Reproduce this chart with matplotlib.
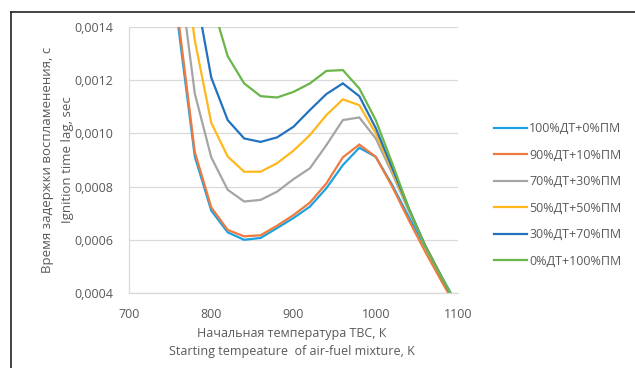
import matplotlib
matplotlib.use("Agg")
import matplotlib.pyplot as plt
from matplotlib.lines import Line2D

plt.rcParams['font.family'] = ['Open Sans', 'DejaVu Sans']

temps = [740, 760, 780, 800, 820, 840, 860, 880, 900, 920, 940, 960, 980, 1000, 1020, 1040, 1060, 1080, 1100]

s100 = [0.00200, 0.00140, 0.000913, 0.000710, 0.000628, 0.000600, 0.000607, 0.000644, 0.000682, 0.000725, 0.000794, 0.000881, 0.000946, 0.000912, 0.000806, 0.000687, 0.000575, 0.000462, 0.000350]
s90 = [0.00205, 0.00143, 0.000930, 0.000722, 0.000637, 0.000613, 0.000617, 0.000653, 0.000693, 0.000740, 0.000812, 0.000910, 0.000958, 0.000912, 0.000800, 0.000675, 0.000556, 0.000444, 0.000335]
s70 = [0.00220, 0.00163, 0.001150, 0.000910, 0.000788, 0.000744, 0.000750, 0.000781, 0.000828, 0.000869, 0.000956, 0.001050, 0.001060, 0.000981, 0.000850, 0.000710, 0.000580, 0.000460, 0.000345]
s50 = [0.00240, 0.00180, 0.001350, 0.001040, 0.000913, 0.000856, 0.000856, 0.000888, 0.000935, 0.000994, 0.001069, 0.001128, 0.001106, 0.001000, 0.000860, 0.000715, 0.000580, 0.000460, 0.000345]
s30 = [0.00260, 0.00200, 0.001550, 0.001210, 0.001050, 0.000981, 0.000968, 0.000985, 0.001025, 0.001088, 0.001148, 0.001188, 0.001140, 0.001020, 0.000870, 0.000720, 0.000578, 0.000460, 0.000345]
s0 = [0.00300, 0.00240, 0.001900, 0.001500, 0.001290, 0.001188, 0.001140, 0.001135, 0.001156, 0.001188, 0.001235, 0.001238, 0.001169, 0.001050, 0.000888, 0.000719, 0.000575, 0.000460, 0.000348]

labels = ['100%ДТ+0%ПМ', '90%ДТ+10%ПМ', '70%ДТ+30%ПМ', '50%ДТ+50%ПМ', '30%ДТ+70%ПМ', '0%ДТ+100%ПМ']
series = [s100, s90, s70, s50, s30, s0]
colors = ['#1AA3E3', '#F07A3E', '#A5A5A5', '#FFB81C', '#2272BE', '#6AB64A']

yticks = [0.0004, 0.0006, 0.0008, 0.0010, 0.0012, 0.0014]
ytick_labels = ['0,0004', '0,0006', '0,0008', '0,0010', '0,0012', '0,0014']
xticks = [700, 800, 900, 1000, 1100]

fig = plt.figure(figsize=(6.35, 3.68), dpi=100)
ax = fig.add_axes([129/635, 1-293/368, (458-129)/635, (293-27)/368])

for s, c, lab in zip(series, colors, labels):
    ax.plot(temps, s, color=c, lw=1.6, label=lab, solid_joinstyle='miter')

ax.set_xlim(700, 1100)
ax.set_ylim(0.0004, 0.0014)
ax.set_yticks(yticks)
ax.set_yticklabels(ytick_labels)
ax.set_xticks(xticks)
ax.grid(axis='y', color='#D9D9D9', lw=0.9)
ax.set_axisbelow(True)
for sp in ['top', 'right']:
    ax.spines[sp].set_visible(False)
for sp in ['left', 'bottom']:
    ax.spines[sp].set_color('#D9D9D9')
    ax.spines[sp].set_linewidth(0.9)
ax.tick_params(length=0, labelsize=9, colors='#595959', pad=11)

tc = '#595959'
fig.text(292/635, 1-333/368, 'Начальная температура ТВС, К', ha='center', va='center', fontsize=9, color=tc)
fig.text(292/635, 1-352/368, 'Starting tempeature  of air-fuel mixture, K', ha='center', va='center', fontsize=9, color=tc)
fig.text(48/635, 1-160/368, 'Время задержки воспламенения, с', ha='center', va='center', rotation=90, fontsize=9.5, color=tc)
fig.text(67/635, 1-160/368, 'Ignition time lag, sec', ha='center', va='center', rotation=90, fontsize=9.5, color=tc)

leg = fig.legend(loc='upper left', bbox_to_anchor=(489/635, 1-117/368), frameon=False,
                 fontsize=9, labelcolor=tc, handlelength=2.6, handletextpad=0.2,
                 labelspacing=1.08, borderaxespad=0)

fig.add_artist(Line2D([11/635, 11/635], [0, 1-12/368], color='#222222', lw=1.2, transform=fig.transFigure))
fig.add_artist(Line2D([11/635, 1], [1-12/368, 1-12/368], color='#222222', lw=1.2, transform=fig.transFigure))

fig.savefig('out.png', dpi=100)
